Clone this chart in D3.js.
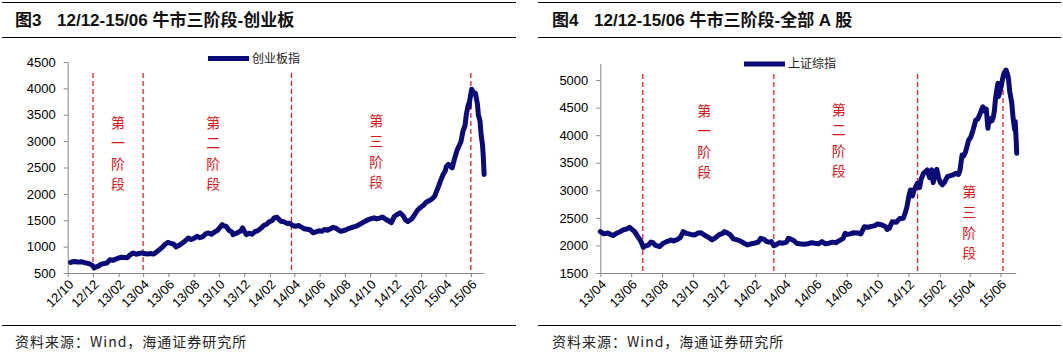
<!doctype html>
<html lang="zh">
<head>
<meta charset="utf-8">
<title>12/12-15/06 牛市三阶段</title>
<style>
  body { margin: 0; background: #fff; }
  svg { display: block; }
  text { font-family: "Liberation Sans", Arial, "Noto Sans CJK SC", sans-serif; }
</style>
</head>
<body>
<svg width="1063" height="354"></svg>
<script src="https://cdn.jsdelivr.net/npm/d3@7"></script>
<script>
// 创业板指 (roughly weekly)
var cyDates = [
  '2012-10-08','2012-10-12','2012-10-19','2012-10-26','2012-11-02','2012-11-09','2012-11-16','2012-11-23','2012-11-30',
  '2012-12-04','2012-12-07','2012-12-14','2012-12-21','2012-12-28','2013-01-04','2013-01-11','2013-01-18','2013-01-25',
  '2013-02-01','2013-02-08','2013-02-22','2013-02-28','2013-03-08','2013-03-15','2013-03-22','2013-03-29','2013-04-03',
  '2013-04-12','2013-04-19','2013-04-26','2013-05-03','2013-05-10','2013-05-17','2013-05-24','2013-05-31','2013-06-07',
  '2013-06-14','2013-06-20','2013-06-28','2013-07-05','2013-07-12','2013-07-19','2013-07-26','2013-08-02','2013-08-09',
  '2013-08-16','2013-08-23','2013-08-30','2013-09-06','2013-09-13','2013-09-20','2013-09-27','2013-10-09','2013-10-11',
  '2013-10-18','2013-10-25','2013-11-01','2013-11-04','2013-11-08','2013-11-15','2013-11-22','2013-11-27','2013-12-06',
  '2013-12-13','2013-12-20','2013-12-27','2014-01-03','2014-01-10','2014-01-17','2014-01-24','2014-01-30','2014-02-07',
  '2014-02-11','2014-02-18','2014-02-21','2014-02-28','2014-03-07','2014-03-14','2014-03-21','2014-03-28','2014-04-04',
  '2014-04-11','2014-04-18','2014-04-25','2014-05-09','2014-05-16','2014-05-23','2014-05-30','2014-06-06','2014-06-13',
  '2014-06-20','2014-06-27','2014-07-04','2014-07-11','2014-07-18','2014-07-22','2014-08-01','2014-08-08','2014-08-15',
  '2014-08-22','2014-08-29','2014-09-05','2014-09-12','2014-09-19','2014-09-26','2014-10-10','2014-10-17','2014-10-24',
  '2014-10-31','2014-11-07','2014-11-14','2014-11-21','2014-11-28','2014-12-05','2014-12-12','2014-12-19','2014-12-26',
  '2014-12-31','2015-01-09','2015-01-16','2015-01-23','2015-01-30','2015-02-06','2015-02-13','2015-02-27','2015-03-06',
  '2015-03-10','2015-03-13','2015-03-20','2015-03-26','2015-03-31','2015-04-03','2015-04-08','2015-04-17','2015-04-22',
  '2015-04-28','2015-04-30','2015-05-05','2015-05-08','2015-05-13','2015-05-18','2015-05-21','2015-05-26','2015-05-28',
  '2015-05-29','2015-06-03','2015-06-05','2015-06-10','2015-06-12','2015-06-17','2015-06-19','2015-06-23','2015-06-26',
  '2015-06-29','2015-07-01','2015-07-03'
];
var cyValues = [
  700, 712, 718, 706, 715, 700, 688, 672, 640,
  596, 612, 630, 668, 680, 690, 753, 740, 762,
  785, 800, 790, 840, 880, 855, 870, 882, 868,
  860, 870, 858, 895, 940, 985, 1045, 1082, 1060,
  1045, 994, 1030, 1070, 1110, 1164, 1135, 1160, 1195,
  1170, 1190, 1240, 1260, 1235, 1275, 1305, 1417, 1395,
  1385, 1310, 1280, 1227, 1240, 1265, 1295, 1354, 1227,
  1255, 1235, 1285, 1305, 1345, 1400, 1425, 1470, 1495,
  1544, 1556, 1530, 1480, 1470, 1440, 1445, 1400, 1385,
  1400, 1370, 1340, 1320, 1262, 1280, 1300, 1290, 1325,
  1310, 1340, 1365, 1345, 1310, 1290, 1310, 1335, 1355,
  1375, 1390, 1420, 1450, 1480, 1510, 1545, 1525, 1540,
  1560, 1520, 1490, 1455, 1570, 1610, 1640, 1590, 1500,
  1475, 1525, 1600, 1690, 1740, 1780, 1840, 1900, 1960,
  2050, 2100, 2250, 2367, 2430, 2520, 2560, 2494, 2650,
  2810, 2850, 2937, 2990, 3190, 3300, 3506, 3700, 3650,
  3760, 3985, 3950, 3886, 3910, 3696, 3500, 3380, 3100,
  2937, 2700, 2367
];

// 上证综指
var shDates = [
  '2013-04-01','2013-04-08','2013-04-16','2013-04-23','2013-04-26','2013-05-03','2013-05-10','2013-05-17','2013-05-24',
  '2013-05-29','2013-06-04','2013-06-08','2013-06-14','2013-06-20','2013-06-25','2013-06-28','2013-07-05','2013-07-10',
  '2013-07-14','2013-07-19','2013-07-27','2013-08-02','2013-08-09','2013-08-20','2013-08-23','2013-08-30','2013-09-06',
  '2013-09-12','2013-09-18','2013-09-27','2013-10-05','2013-10-11','2013-10-17','2013-10-25','2013-10-31','2013-11-08',
  '2013-11-15','2013-11-22','2013-11-29','2013-12-02','2013-12-06','2013-12-13','2013-12-20','2013-12-28','2014-01-03',
  '2014-01-10','2014-01-17','2014-01-24','2014-01-30','2014-02-07','2014-02-12','2014-02-19','2014-02-24','2014-02-28',
  '2014-03-05','2014-03-10','2014-03-14','2014-03-21','2014-03-28','2014-04-04','2014-04-08','2014-04-11','2014-04-18',
  '2014-04-24','2014-04-30','2014-05-09','2014-05-16','2014-05-24','2014-05-30','2014-06-06','2014-06-13','2014-06-20',
  '2014-06-27','2014-07-04','2014-07-11','2014-07-16','2014-07-25','2014-07-29','2014-08-01','2014-08-08','2014-08-15',
  '2014-08-24','2014-08-29','2014-09-05','2014-09-12','2014-09-19','2014-09-26','2014-10-01','2014-10-10','2014-10-17',
  '2014-10-20','2014-10-24','2014-10-30','2014-11-07','2014-11-14','2014-11-21','2014-11-25','2014-11-28','2014-12-02',
  '2014-12-05','2014-12-09','2014-12-12','2014-12-15','2014-12-19','2014-12-23','2014-12-26','2014-12-31','2015-01-07',
  '2015-01-12','2015-01-16','2015-01-19','2015-01-23','2015-01-26','2015-01-30','2015-02-03','2015-02-06','2015-02-10',
  '2015-02-16','2015-02-27','2015-03-04','2015-03-10','2015-03-13','2015-03-17','2015-03-20','2015-03-24','2015-03-30',
  '2015-04-03','2015-04-08','2015-04-13','2015-04-17','2015-04-22','2015-04-27','2015-04-30','2015-05-04','2015-05-07',
  '2015-05-08','2015-05-13','2015-05-15','2015-05-18','2015-05-20','2015-05-22','2015-05-26','2015-05-27','2015-05-28',
  '2015-06-01','2015-06-05','2015-06-08','2015-06-12','2015-06-15','2015-06-17','2015-06-19','2015-06-23','2015-06-26',
  '2015-06-29','2015-06-30','2015-07-02','2015-07-03'
];
var shValues = [
  2250, 2210, 2225, 2190, 2180, 2220, 2250, 2285, 2300,
  2330, 2280, 2250, 2160, 2080, 1965, 1990, 2005, 2060,
  2050, 2000, 1980, 2030, 2065, 2100, 2080, 2100, 2140,
  2250, 2220, 2200, 2190, 2225, 2230, 2180, 2150, 2100,
  2140, 2195, 2220, 2250, 2235, 2200, 2120, 2100, 2080,
  2040, 2008, 2030, 2040, 2060, 2130, 2110, 2070, 2060,
  2070, 1995, 2010, 2050, 2040, 2060, 2130, 2120, 2090,
  2040, 2030, 2020, 2030, 2050, 2040, 2030, 2070, 2030,
  2040, 2060, 2050, 2080, 2130, 2220, 2200, 2210, 2230,
  2225, 2210, 2340, 2330, 2345, 2360, 2390, 2370, 2340,
  2290, 2310, 2430, 2420, 2490, 2495, 2600, 2700, 2900,
  3005, 2900, 3000, 3060, 3127, 3050, 3200, 3308, 3368,
  3230, 3370, 3140, 3340, 3380, 3210, 3127, 3100, 3140,
  3247, 3280, 3308, 3290, 3370, 3640, 3620, 3700, 3912,
  3960, 4100, 4275, 4290, 4400, 4516, 4440, 4470, 4124,
  4200, 4300, 4260, 4335, 4450, 4660, 4900, 4940, 4698,
  4830, 5020, 5130, 5181, 5100, 5000, 4800, 4600, 4300,
  4100, 4250, 3900, 3670
];

var cyTicks = ['2012-10-01','2012-12-01','2013-02-01','2013-04-01','2013-06-01','2013-08-01','2013-10-01','2013-12-01',
  '2014-02-01','2014-04-01','2014-06-01','2014-08-01','2014-10-01','2014-12-01','2015-02-01','2015-04-01','2015-06-01'];
var shTicks = ['2013-04-01','2013-06-01','2013-08-01','2013-10-01','2013-12-01','2014-02-01','2014-04-01',
  '2014-06-01','2014-08-01','2014-10-01','2014-12-01','2015-02-01','2015-04-01','2015-06-01'];
var cyYTicks = [500, 1000, 1500, 2000, 2500, 3000, 3500, 4000, 4500];
var shYTicks = [1500, 2000, 2500, 3000, 3500, 4000, 4500, 5000];

// 阶段分界
var cyStages = ['2012-12-01', '2013-04-01', '2014-03-25', '2015-06-01'];
var shStages = ['2013-06-24', '2014-03-10', '2014-12-19', '2015-06-06'];
var stageNames = ['第一阶段', '第二阶段', '第三阶段'];

var parse = d3.timeParse('%Y-%m-%d');
var fmt = d3.timeFormat('%y/%m');
var svg = d3.select('svg');

svg.append('rect').attr('width', 1063).attr('height', 354).attr('fill', '#fff');

function drawPanel(p) {
  var g = svg.append('g');

  // 标题和分隔线
  g.append('line').attr('x1', p.left).attr('x2', p.right).attr('y1', 2.5).attr('y2', 2.5)
    .attr('stroke', '#000').attr('stroke-width', 1);
  g.append('line').attr('x1', p.left).attr('x2', p.right).attr('y1', 37.5).attr('y2', 37.5)
    .attr('stroke', '#000').attr('stroke-width', 1);
  g.append('line').attr('x1', p.left).attr('x2', p.right).attr('y1', 325.5).attr('y2', 325.5)
    .attr('stroke', '#000').attr('stroke-width', 1);
  g.append('text').attr('x', p.titleX).attr('y', 26).text(p.fig)
    .attr('font-size', '17px').attr('font-weight', 'bold').attr('fill', '#111');
  g.append('text').attr('x', p.titleX + 42).attr('y', 26).text(p.title)
    .attr('font-size', '17px').attr('font-weight', 'bold').attr('fill', '#111');
  g.append('text').attr('x', p.titleX).attr('y', 347).text('资料来源：Wind，海通证券研究所')
    .attr('font-size', '14px').attr('fill', '#222').attr('letter-spacing', '1px')
    .style('font-family', '"Noto Sans CJK SC", sans-serif');

  var data = p.dates.map(function (d, i) { return { date: parse(d), value: p.values[i] }; });

  var x = d3.scaleTime().domain([parse(p.xFrom), parse(p.xTo)]).range([p.x0, p.x1]);
  var y = d3.scaleLinear().domain(p.yDomain).range([273, p.yTop]);

  var xAxis = d3.axisBottom(x)
    .tickValues(p.ticks.map(parse))
    .tickFormat(fmt)
    .tickSize(4)
    .tickSizeOuter(0);
  var ax = g.append('g').attr('transform', 'translate(0,273)').call(xAxis);
  ax.selectAll('text')
    .attr('text-anchor', 'end')
    .attr('transform', 'translate(3,9) rotate(-45)')
    .attr('dy', '0.35em')
    .attr('y', 0).attr('x', 0)
    .attr('font-size', '13px').attr('fill', '#000')
    .style('font-family', '"Liberation Sans", Arial, sans-serif');

  var yAxis = d3.axisLeft(y).tickValues(p.yTicks).tickFormat(d3.format('d'))
    .tickSize(4).tickSizeOuter(0).tickPadding(8);
  var ay = g.append('g').attr('transform', 'translate(' + p.x0 + ',0)').call(yAxis);
  ay.selectAll('text').attr('font-size', '13px').attr('fill', '#000')
    .style('font-family', '"Liberation Sans", Arial, sans-serif');

  g.selectAll('.domain, .tick line').attr('stroke', '#868686');

  // 阶段虚线
  var stageX = p.stages.map(function (d) { return x(parse(d)); });
  g.selectAll('line.stage').data(stageX).enter()
    .append('line').attr('class', 'stage')
    .attr('x1', function (v) { return v; }).attr('x2', function (v) { return v; })
    .attr('y1', p.dashTop).attr('y2', 273)
    .attr('stroke', '#e0141c').attr('stroke-width', 1.2)
    .attr('stroke-dasharray', '5,3');

  // 阶段文字（竖排）
  stageNames.forEach(function (name, i) {
    var cx = (stageX[i] + stageX[i + 1]) / 2 + p.labelDx[i];
    var t = g.append('text').attr('fill', '#e0141c').attr('font-size', '14px')
      .attr('text-anchor', 'middle')
      .style('font-family', '"Noto Sans CJK SC", sans-serif');
    name.split('').forEach(function (ch, k) {
      t.append('tspan').attr('x', cx).attr('y', p.labelY[i] + k * 20.5).attr('dy', '0.35em').text(ch);
    });
  });

  // 指数曲线
  var line = d3.line().x(function (d) { return x(d.date); }).y(function (d) { return y(d.value); });
  g.append('path').datum(data)
    .attr('d', line)
    .attr('fill', 'none')
    .attr('stroke', '#0a0a78')
    .attr('stroke-width', 5)
    .attr('stroke-linejoin', 'round')
    .attr('stroke-linecap', 'round');

  // 图例
  g.append('line').attr('x1', p.left + 206).attr('x2', p.left + 247)
    .attr('y1', p.legendY).attr('y2', p.legendY)
    .attr('stroke', '#0a0a78').attr('stroke-width', 5);
  g.append('text').attr('x', p.left + 250).attr('y', p.legendY).attr('dy', '0.35em')
    .text(p.name).attr('font-size', '12px').attr('fill', '#222')
    .style('font-family', '"Noto Sans CJK SC", sans-serif');
}

drawPanel({
  left: 2, right: 516, titleX: 15,
  fig: '图3', title: '12/12-15/06 牛市三阶段-创业板', name: '创业板指',
  dates: cyDates, values: cyValues, ticks: cyTicks, yTicks: cyYTicks,
  xFrom: '2012-10-01', xTo: '2015-07-01', x0: 67.7, x1: 483.3,
  yDomain: [500, 4500], yTop: 62,
  stages: cyStages, dashTop: 73, labelDx: [0, -4, -5], labelY: [123, 123, 121],
  legendY: 58.5
});

drawPanel({
  left: 538, right: 1061, titleX: 552,
  fig: '图4', title: '12/12-15/06 牛市三阶段-全部 A 股', name: '上证综指',
  dates: shDates, values: shValues, ticks: shTicks, yTicks: shYTicks,
  xFrom: '2013-04-01', xTo: '2015-07-01', x0: 600.3, x1: 1015.7,
  yDomain: [1500, 5300], yTop: 63.5,
  stages: shStages, dashTop: 74, labelDx: [-4, -7, 9], labelY: [111, 110, 192],
  legendY: 64
});
</script>
</body>
</html>
